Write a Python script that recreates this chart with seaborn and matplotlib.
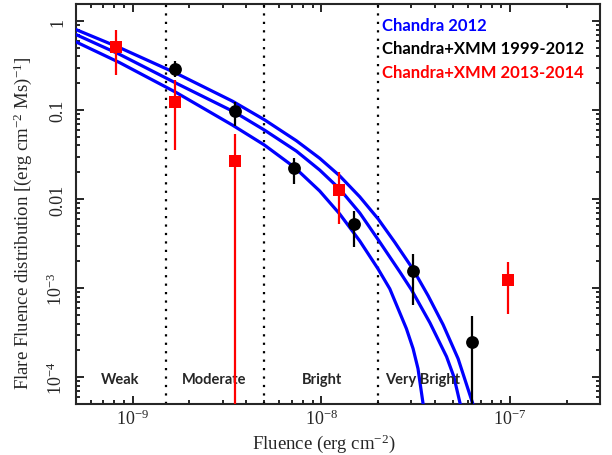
import numpy as np
import pandas as pd
import seaborn as sns
import matplotlib as mpl
import matplotlib.pyplot as plt
mpl.use("Agg")

# Chandra 2012 model: upper / central / lower curves
upper_f = [4.96e-10, 8.50e-10, 1.70e-9, 3.38e-9, 5.0e-9, 7.38e-9, 9.81e-9, 1.252e-8,
           1.60e-8, 2.0e-8, 2.45e-8, 3.07e-8, 3.69e-8, 4.43e-8, 5.32e-8, 6.49e-8]
upper_y = [0.807, 0.503, 0.259, 0.1258, 0.0777, 0.0452, 0.02874, 0.01825,
           0.01061, 6.01e-3, 3.29e-3, 1.624e-3, 8.20e-4, 3.88e-4, 1.612e-4, 4.43e-5]
mid_f = [4.96e-10, 8.50e-10, 1.70e-9, 3.47e-9, 5.0e-9, 7.38e-9, 9.81e-9, 1.252e-8,
         1.60e-8, 2.0e-8, 2.61e-8, 3.01e-8, 3.77e-8, 4.62e-8, 5.05e-8, 5.50e-8]
mid_y = [0.710, 0.423, 0.2002, 0.0947, 0.0595, 0.0346, 0.0212, 0.01298,
         6.99e-3, 3.52e-3, 1.523e-3, 9.57e-4, 4.08e-4, 1.697e-4, 1.013e-4, 4.67e-5]
lower_f = [4.96e-10, 8.50e-10, 1.70e-9, 3.38e-9, 5.0e-9, 7.22e-9, 9.81e-9, 1.252e-8,
           1.60e-8, 2.0e-8, 2.31e-8, 2.83e-8, 3.07e-8, 3.26e-8, 3.48e-8]
lower_y = [0.5876, 0.3418, 0.1575, 0.0677, 0.0404, 0.0227, 0.01233, 6.81e-3,
           3.39e-3, 1.646e-3, 9.82e-4, 3.50e-4, 2.09e-4, 1.245e-4, 4.79e-5]

# Chandra+XMM 1999-2012 (black circles)
old_f = [1.68e-9, 3.48e-9, 7.2e-9, 1.49e-8, 3.07e-8, 6.34e-8]
old_y = [0.292, 0.0965, 0.0221, 5.26e-3, 1.54e-3, 2.47e-4]
old_lo = [0.232, 0.0665, 0.0148, 2.88e-3, 6.38e-4, 1e-6]
old_hi = [0.356, 0.1217, 0.0287, 7.41e-3, 2.42e-3, 4.9e-4]

# Chandra+XMM 2013-2014 (red squares)
new_f = [8.2e-10, 1.68e-9, 3.5e-9, 1.24e-8, 9.8e-8]
new_y = [0.51, 0.124, 0.0265, 0.0126, 1.24e-3]
new_lo = [0.25, 0.036, 1e-6, 5.2e-3, 5.06e-4]
new_hi = [0.79, 0.22, 0.054, 0.020, 1.96e-3]

bounds = [1.5e-9, 5e-9, 2e-8]
regions = ['Weak', 'Moderate', 'Bright', 'Very Bright']
region_x = [0.0853, 0.263, 0.4695, 0.662]

yticks = [1, 0.1, 0.01, 1e-3, 1e-4]
ytick_labels = ['1', '0.1', '0.01', '$10^{-3}$', '$10^{-4}$']
xticks = [1e-9, 1e-8, 1e-7]
xtick_labels = ['$10^{-9}$', '$10^{-8}$', '$10^{-7}$']

curves = [pd.DataFrame({'fluence': upper_f, 'dist': upper_y}),
          pd.DataFrame({'fluence': mid_f, 'dist': mid_y}),
          pd.DataFrame({'fluence': lower_f, 'dist': lower_y})]
old = pd.DataFrame({'fluence': old_f, 'dist': old_y, 'lo': old_lo, 'hi': old_hi})
new = pd.DataFrame({'fluence': new_f, 'dist': new_y, 'lo': new_lo, 'hi': new_hi})

sns.set_style('ticks')
plt.rcParams['font.family'] = ['Liberation Serif', 'DejaVu Serif']
plt.rcParams['mathtext.fontset'] = 'custom'
plt.rcParams['mathtext.rm'] = 'Liberation Serif'
plt.rcParams['mathtext.it'] = 'Liberation Serif:italic'

fig = plt.figure(figsize=(6.12, 4.56), dpi=100)
ax = fig.add_axes([0.124, 0.112, 0.856, 0.877])
ax.set_xscale('log')
ax.set_yscale('log')

for b in bounds:
    ax.axvline(b, color='black', ls=(0, (1, 2.8)), lw=1.6, zorder=1)

for cdf in curves:
    sns.lineplot(data=cdf, x='fluence', y='dist', estimator=None, sort=False,
                 color='#0000ff', lw=2.3, ax=ax, zorder=3)

ax.vlines(old['fluence'], old['lo'], old['hi'], color='black', lw=1.6, zorder=4)
sns.scatterplot(data=old, x='fluence', y='dist', marker='o', s=85, color='black',
                edgecolor='black', linewidth=0, ax=ax, zorder=5)
ax.vlines(new['fluence'], new['lo'], new['hi'], color='#ff0000', lw=1.6, zorder=6)
sns.scatterplot(data=new, x='fluence', y='dist', marker='s', s=72, color='#ff0000',
                edgecolor='#ff0000', linewidth=0, ax=ax, zorder=7)

ax.set_xlim(5e-10, 3e-7)
ax.set_ylim(5e-5, 1.55)
ax.set_yticks(yticks)
ax.set_yticklabels(ytick_labels, rotation=90, va='center')
ax.set_xticks(xticks)
ax.set_xticklabels(xtick_labels)
ax.tick_params(which='both', direction='in', top=True, right=True, width=1.4,
               labelsize=13)
ax.tick_params(axis='y', which='major', pad=7)
ax.tick_params(which='major', length=6)
ax.tick_params(which='minor', length=3.2)
for s in ax.spines.values():
    s.set_linewidth(1.5)

ax.set_xlabel('Fluence (erg cm$^{-2}$)', fontsize=13.5)
ax.xaxis.set_label_coords(0.474, -0.068)
ax.set_ylabel('Flare Fluence distribution [(erg cm$^{-2}$ Ms)$^{-1}$]', fontsize=13.5)
ax.yaxis.set_label_coords(-0.08, 0.455)

for name, xpos in zip(regions, region_x):
    ax.text(xpos, 0.0625, name, transform=ax.transAxes, ha='center', va='center',
            fontsize=10.5, fontweight='bold', family=['Lato', 'DejaVu Sans'])

legend_txt = ['Chandra 2012', 'Chandra+XMM 1999-2012', 'Chandra+XMM 2013-2014']
legend_col = ['#0000ff', 'black', '#ff0000']
legend_y = [0.9475, 0.889, 0.829]
for t, c, yy in zip(legend_txt, legend_col, legend_y):
    ax.text(0.585, yy, t, transform=ax.transAxes, ha='left', va='center',
            color=c, fontsize=12, fontweight='bold', family=['Lato', 'DejaVu Sans'])

fig.savefig('out.png', dpi=100)
